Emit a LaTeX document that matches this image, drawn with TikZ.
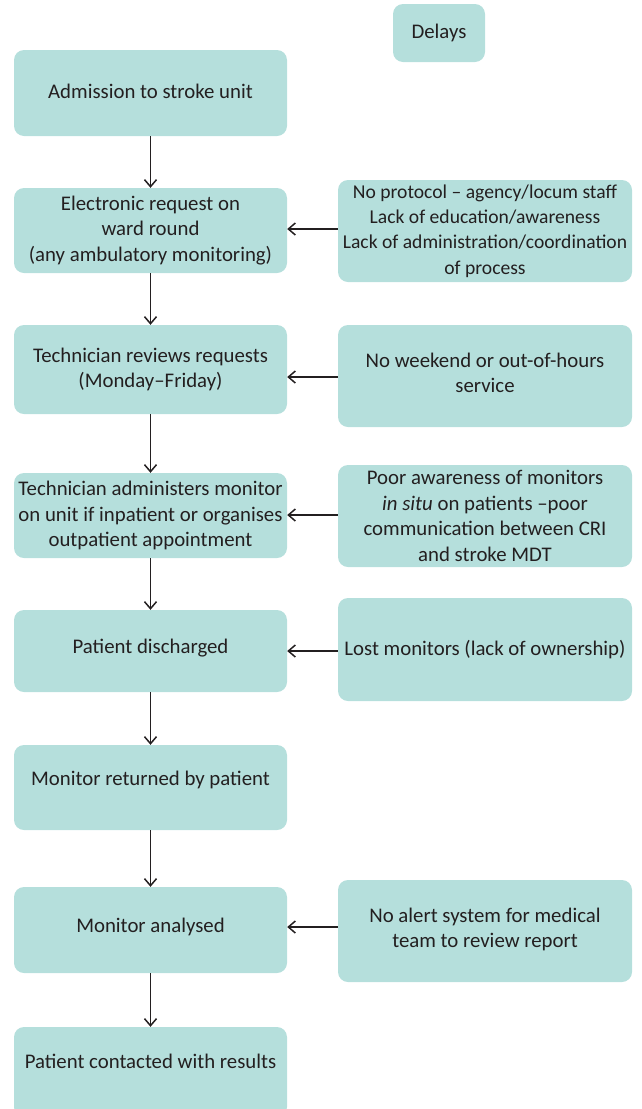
\documentclass[tikz,border=0pt]{standalone}
\usepackage{fontspec}
\setmainfont{Carlito}
\usetikzlibrary{arrows.meta}
\definecolor{boxfill}{HTML}{B5DFDC}
\definecolor{txt}{HTML}{231F20}
\newcommand{\up}[2]{\raisebox{#1}[\height][\depth]{#2}}
\tikzset{
  box/.style={fill=boxfill, draw=none, rounded corners=10pt, align=center, text=txt,
    font=\fontsize{20.8}{25.5}\selectfont, inner sep=0pt},
  tight/.style={font=\fontsize{19.6}{25.3}\selectfont},
  arr/.style={draw=txt, line width=1.8pt, -{Straight Barb[length=7pt,width=12pt,line width=1.5pt]}}
}
\begin{document}
\begin{tikzpicture}[x=1pt,y=-1pt]
\useasboundingbox (0,0) rectangle (642,1109);
% left column
\node[box, minimum width=273pt, minimum height=86pt] (b1) at (150.5,93) {\up{2pt}{Admission to stroke unit}};
\node[box, minimum width=273pt, minimum height=85pt] (b2) at (150.5,230.5) {Electronic request on\\ward round\\(any ambulatory monitoring)};
\node[box, minimum width=273pt, minimum height=89pt] (b3) at (150.5,369.5) {Technician reviews requests\\(Monday--Friday)};
\node[box, minimum width=273pt, minimum height=85pt] (b4) at (150.5,515.5) {Technician administers monitor\\on unit if inpatient or organises\\outpatient appointment};
\node[box, minimum width=273pt, minimum height=82pt] (b5) at (150.5,651) {\up{3pt}{Patient discharged}};
\node[box, minimum width=273pt, minimum height=85pt] (b6) at (150.5,787.5) {\up{8pt}{Monitor returned by patient}};
\node[box, minimum width=273pt, minimum height=86pt] (b7) at (150.5,930) {\up{3pt}{Monitor analysed}};
\node[box, minimum width=273pt, minimum height=90pt] (b8) at (150.5,1072) {\up{11pt}{Patient contacted with results}};
% right column
\node[box, minimum width=92pt, minimum height=58pt] (d0) at (439,33) {Delays};
\node[box, tight, minimum width=294pt, minimum height=102pt] (r1) at (485,231) {No protocol -- agency/locum staff\\Lack of education/awareness\\Lack of administration/coordination\\of process};
\node[box, minimum width=294pt, minimum height=102pt] (r2) at (485,376) {\up{1pt}{\begin{tabular}{@{}c@{}}No weekend or out-of-hours\\service\end{tabular}}};
\node[box, minimum width=294pt, minimum height=102pt] (r3) at (485,516) {Poor awareness of monitors\\\textit{in situ} on patients --poor\\communication between CRI\\and stroke MDT};
\node[box, minimum width=294pt, minimum height=103pt] (r4) at (485,649.5) {Lost monitors (lack of ownership)};
\node[box, minimum width=294pt, minimum height=102pt] (r5) at (485,931) {\up{1pt}{\begin{tabular}{@{}c@{}}No alert system for medical\\team to review report\end{tabular}}};
% vertical arrows
\draw[arr] (b1) -- (b2);
\draw[arr] (b2) -- (b3);
\draw[arr] (b3) -- (b4);
\draw[arr] (b4) -- (b5);
\draw[arr] (b5) -- (b6);
\draw[arr] (b6) -- (b7);
\draw[arr] (b7) -- (b8);
% horizontal arrows
\draw[arr] ([yshift=2pt]r1.west) -- ([yshift=2pt]r1.west -| b2.east);
\draw[arr] ([yshift=-1pt]r2.west) -- ([yshift=-1pt]r2.west -| b3.east);
\draw[arr] ([yshift=1pt]r3.west) -- ([yshift=1pt]r3.west -| b4.east);
\draw[arr] ([yshift=-1.5pt]r4.west) -- ([yshift=-1.5pt]r4.west -| b5.east);
\draw[arr] ([yshift=4pt]r5.west) -- ([yshift=4pt]r5.west -| b7.east);
\end{tikzpicture}
\end{document}
